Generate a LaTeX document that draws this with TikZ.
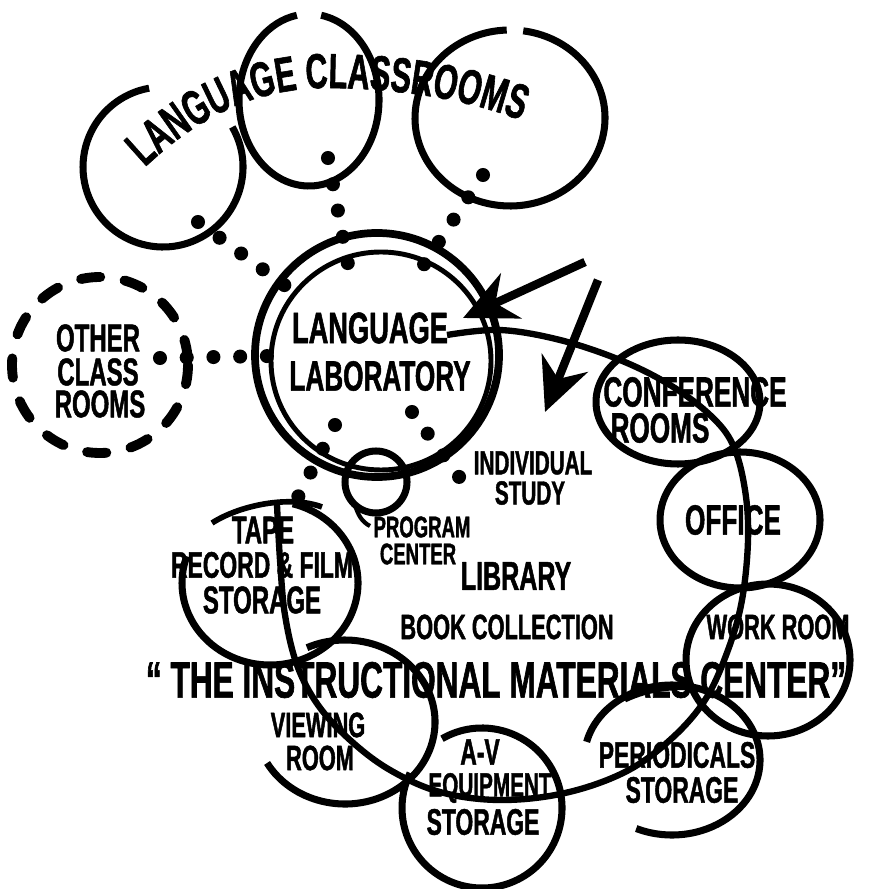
\documentclass[tikz,border=0pt]{standalone}
\usepackage{fontspec}
\newfontfamily\handfont[FakeStretch=0.62,FakeBold=1.2]{Liberation Sans}
\usetikzlibrary{arrows.meta,decorations.text}

\begin{document}
\begin{tikzpicture}[x=0.01cm,y=-0.01cm,line join=round,
  bubble/.style={line width=2pt},
  dotlink/.style={line width=4pt,line cap=round,dash pattern=on 0pt off 7.6pt},
  hand/.style={font=\handfont\bfseries\fontsize{#1}{#1}\selectfont,inner sep=0pt},
  bigarrow/.style={line width=2.4pt,-{Stealth[length=15pt,width=14pt]}}]
\fill[white] (0,0) rectangle (879,889);
\useasboundingbox (0,0) rectangle (879,889);
% Language classrooms
\draw[bubble] ([shift={(330:80)}]163,167) arc[start angle=330,end angle=620,radius=80];
\draw[bubble] ([shift={(280:70 and 86)}]309,100) arc[start angle=280,end angle=620,x radius=70,y radius=86];
\draw[bubble] ([shift={(278:95 and 88)}]510,118) arc[start angle=278,end angle=628,x radius=95,y radius=88];
\path[decorate,decoration={text along path,text align=center,
  text={|\handfont\bfseries\fontsize{14}{14}\selectfont|LANGUAGE CLASSROOMS}}]
  (142,170) .. controls (200,115) and (255,90) .. (322,88) .. controls (400,88) and (470,100) .. (525,122);
% Language laboratory
\draw[line width=2.2pt] (377,355) circle[radius=122];
\draw[line width=1.4pt] (381,361) circle[x radius=110,y radius=109];
\node[hand=12.5] (lab1) at (370,328) {LANGUAGE};
\node[hand=12] (lab2) at (380,376) {LABORATORY};
% Other class rooms
\draw[line width=2.8pt,line cap=round,dash pattern=on 5.5pt off 7pt] (100,365) circle[radius=88];
\node[hand=11] (oth1) at (98,338) {OTHER};
\node[hand=11] (oth2) at (98,372) {CLASS};
\node[hand=11] (oth3) at (100,404) {ROOMS};
% Dotted links
\coordinate (lcl) at (198,222);
\coordinate (lcm) at (328,158);
\coordinate (lcr) at (483,175);
\coordinate (ocr) at (160,358);
\coordinate (labA) at (302,298);
\coordinate (labB) at (350,275);
\coordinate (labC) at (415,278);
\coordinate (labD) at (272,356);
\coordinate (labE) at (335,425);
\coordinate (labF) at (412,412);
\coordinate (tps) at (298,497);
\coordinate (ist) at (470,492);
\draw[dotlink] (lcl) -- (labA);
\draw[dotlink] (lcm) -- (labB);
\draw[dotlink] (lcr) -- (labC);
\draw[dotlink] (ocr) -- (labD);
\draw[dotlink] (labE) -- (tps);
\draw[dotlink] (labF) -- (ist);
% Arrows
\coordinate (arA) at (585,262);
\coordinate (arAt) at (463,318);
\coordinate (arB) at (598,280);
\coordinate (arBt) at (545,412);
\draw[bigarrow] (arA) -- (arAt);
\draw[bigarrow] (arB) -- (arBt);
% Program center
\draw[bubble] (376,482) circle[radius=31];
\draw[line width=1.2pt] (355,505) .. controls (358,515) and (362,522) .. (370,526);
\node[hand=8.5] (prog1) at (422,527) {PROGRAM};
\node[hand=8.5] (prog2) at (418,554) {CENTER};
% Individual study
\node[hand=9.5] (ind1) at (533,463) {INDIVIDUAL};
\node[hand=9.5] (ind2) at (530,493) {STUDY};
% Library
\node[hand=11.5] (lib) at (516,576) {LIBRARY};
\node[hand=10] (book) at (507,627) {BOOK COLLECTION};
% Instructional materials center loop
\draw[line width=1.8pt] plot[smooth,tension=0.6] coordinates {(447,335) (500,330) (560,340) (620,360)
  (670,385) (710,415) (733,445) (745,490) (748,540) (742,600) (728,650) (705,700) (670,740)
  (625,772) (565,793) (500,800) (440,792) (390,770) (350,740) (318,705) (297,665) (285,615)
  (280,560) (277,505)};
% Conference rooms
\draw[bubble] (678,402) circle[x radius=82,y radius=62];
\node[hand=12] (conf1) at (695,392) {CONFERENCE};
\node[hand=12] (conf2) at (660,428) {ROOMS};
% Office
\draw[bubble] (740,520) circle[x radius=80,y radius=68];
\node[hand=12] (off) at (733,520) {OFFICE};
% Work room
\draw[bubble] (768,660) circle[x radius=82,y radius=76];
\node[hand=10] (work) at (778,627) {WORK ROOM};
% Periodicals storage
\draw[bubble] ([shift={(194:88 and 75)}]672,760) arc[start angle=194,end angle=474,x radius=88,y radius=75];
\draw[line width=1.4pt] (625,700) .. controls (650,688) and (680,685) .. (705,690);
\node[hand=10.5] (per1) at (677,755) {PERIODICALS};
\node[hand=10.5] (per2) at (682,790) {STORAGE};
% A-V equipment storage
\draw[bubble] ([shift={(240:80)}]482,808) arc[start angle=240,end angle=566,radius=80];
\node[hand=10.5] (av1) at (480,752) {A-V};
\node[hand=9.5] (av2) at (490,788) {EQUIPMENT};
\node[hand=10.5] (av3) at (483,822) {STORAGE};
% Viewing room
\draw[bubble] ([shift={(150:90 and 82)}]345,722) arc[start angle=150,end angle=-115,x radius=90,y radius=82];
\node[hand=10] (view1) at (318,725) {VIEWING};
\node[hand=10] (view2) at (320,758) {ROOM};
% Tape storage
\draw[bubble] ([shift={(285:88 and 82)}]270,583) arc[start angle=285,end angle=559,x radius=88,y radius=82];
\draw[line width=1.6pt] (212,523) .. controls (240,505) and (290,495) .. (322,507);
\node[hand=11] (tape1) at (263,530) {TAPE};
\node[hand=10.5] (tape2) at (262,565) {RECORD \& FILM};
\node[hand=11] (tape3) at (262,600) {STORAGE};
% Title
\node[hand=14.5] (imc) at (496,680) {“ THE INSTRUCTIONAL MATERIALS CENTER”};
\end{tikzpicture}
\end{document}
